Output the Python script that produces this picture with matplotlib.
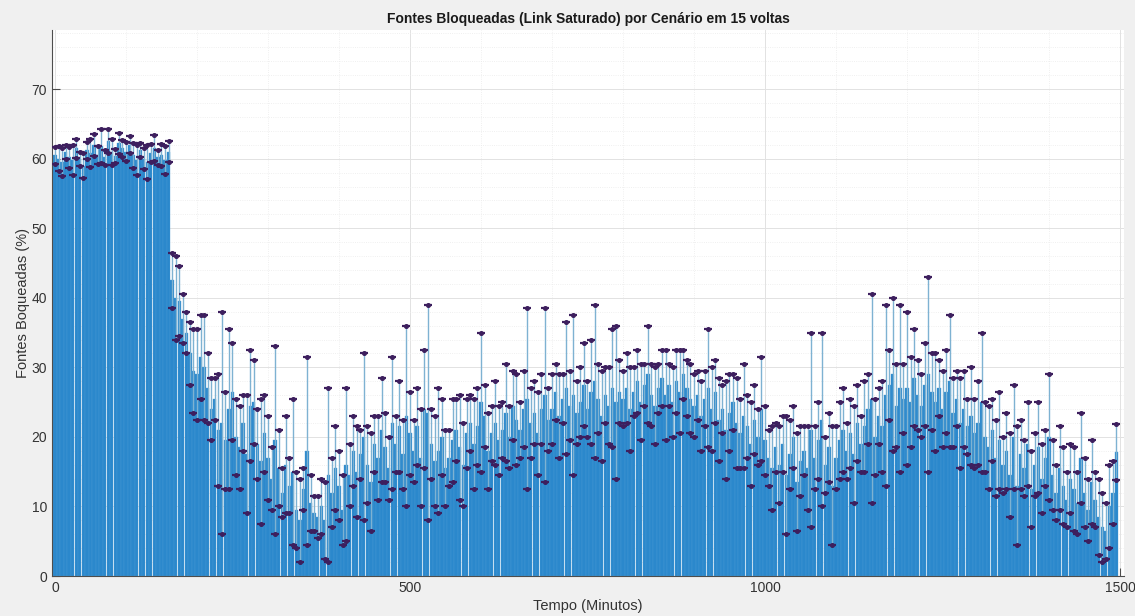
import matplotlib
matplotlib.use("Agg")
import matplotlib.pyplot as plt
from matplotlib.ticker import MultipleLocator
import numpy as np

# Sampling instants (minutes) — one bar every 5 minutes
tempo = list(range(0, 1500, 5))

# Mean share of blocked sources (%) at each instant
media = [
    60.5, 60.0, 59.5, 61.0, 60.2, 59.8, 61.5, 60.0, 59.0, 61.2, 60.8, 62.0, 60.5, 61.8, 60.2, 62.5, 61.0, 60.4, 62.2, 61.5,
    61.0, 62.0, 60.5, 59.8, 61.2, 60.0, 59.5, 60.8, 61.5, 60.2, 60.5, 59.8, 61.0, 42.5, 40.0, 39.5, 37.0, 35.0, 32.0, 29.5,
    29.0, 31.5, 30.0, 27.0, 24.0, 25.5, 21.0, 22.0, 19.5, 24.0, 26.5, 20.0, 18.5, 22.0, 17.5, 24.5, 25.0, 19.0, 16.5, 20.5,
    17.0, 14.0, 19.5, 15.5, 12.0, 16.0, 13.0, 15.0, 9.5, 8.0, 12.5, 18.0, 10.5, 9.0, 8.5, 10.0, 8.0, 14.5, 12.0, 15.5,
    13.0, 9.5, 16.0, 14.5, 18.0, 15.0, 17.5, 20.0, 16.0, 13.5, 19.0, 17.0, 21.0, 18.5, 15.5, 22.0, 19.0, 21.5, 17.5, 23.0,
    20.5, 18.0, 21.5, 17.0, 24.0, 23.5, 19.0, 16.5, 18.0, 20.0, 15.5, 17.0, 19.5, 21.0, 18.5, 16.0, 20.5, 22.0, 19.0, 21.5,
    25.0, 23.0, 18.0, 20.5, 22.0, 19.5, 21.0, 23.5, 20.0, 24.5, 22.5, 21.0, 24.0, 25.5, 22.0, 23.5, 20.5, 24.0, 26.0, 22.5,
    24.0, 26.5, 23.0, 25.5, 27.0, 24.5, 26.0, 23.5, 25.0, 27.5, 24.0, 26.5, 28.0, 25.5, 23.0, 26.0, 24.5, 27.0, 25.0, 26.5,
    25.5, 27.0, 24.0, 26.5, 28.0, 25.0, 27.5, 29.0, 26.0, 24.5, 27.0, 28.5, 26.0, 27.5, 25.0, 28.0, 26.5, 29.0, 27.0, 25.5,
    24.5, 26.0, 23.0, 25.5, 27.0, 24.0, 26.5, 22.5, 24.0, 21.0, 23.5, 25.0, 22.0, 20.5, 23.0, 21.5, 19.0, 22.5, 20.0, 24.0,
    19.5, 17.0, 15.5, 18.5, 16.0, 19.0, 14.5, 17.5, 20.0, 13.5, 16.5, 18.0, 15.5, 21.0, 17.0, 19.5, 22.5, 16.0, 18.5, 13.0,
    17.0, 19.5, 21.0, 18.0, 20.5, 17.5, 22.0, 19.0, 21.5, 24.0, 25.5, 20.0, 23.0, 21.5, 26.0, 27.5, 29.0, 24.5, 27.0, 25.5,
    27.0, 25.0, 28.5, 26.0, 24.5, 27.5, 29.0, 26.5, 25.0, 27.0, 24.0, 26.5, 28.0, 23.5, 25.5, 22.0, 24.0, 21.5, 23.0, 20.5,
    22.0, 25.0, 20.0, 18.5, 21.0, 17.0, 19.5, 16.0, 18.0, 14.5, 20.0, 13.0, 17.5, 15.5, 19.0, 12.5, 16.0, 18.5, 14.0, 17.0,
    20.0, 14.5, 12.0, 15.5, 13.0, 11.0, 14.0, 12.5, 10.5, 17.0, 12.0, 9.5, 13.5, 11.0, 8.5, 7.0, 6.5, 10.0, 12.0, 17.8,
]

# Standard deviation over the 15 laps at each instant
desvio = [
    1.2, 1.8, 2.0, 1.0, 1.5, 2.2, 1.4, 1.0, 1.8, 1.2, 2.0, 1.6, 1.3, 2.4, 1.1, 1.7, 1.9, 1.0, 1.5, 1.2,
    1.4, 1.2, 1.8, 2.2, 1.0, 1.5, 2.4, 1.3, 1.9, 1.1, 1.6, 2.0, 1.5, 4.0, 6.0, 5.0, 3.5, 3.0, 4.5, 6.0,
    6.5, 6.0, 7.5, 5.0, 4.5, 3.0, 8.0, 16.0, 7.0, 11.5, 7.0, 5.5, 6.0, 4.0, 8.5, 8.0, 6.0, 5.0, 9.0, 5.5,
    6.0, 4.5, 13.5, 5.5, 3.5, 7.0, 4.0, 10.5, 5.5, 6.0, 3.0, 13.5, 4.0, 2.5, 3.0, 4.0, 5.5, 12.5, 5.0, 6.0,
    5.0, 5.0, 11.0, 4.5, 5.0, 6.5, 3.5, 12.0, 5.5, 7.0, 4.0, 6.0, 7.5, 5.0, 4.5, 9.5, 4.0, 6.5, 5.0, 13.0,
    6.0, 4.5, 5.5, 7.0, 8.5, 15.5, 5.0, 6.5, 9.0, 5.5, 5.5, 4.0, 6.0, 4.5, 7.5, 6.0, 5.0, 4.0, 6.5, 5.5,
    10.0, 4.5, 5.5, 4.0, 6.0, 5.0, 4.0, 7.0, 4.5, 5.0, 6.5, 4.0, 5.5, 13.0, 5.0, 4.5, 6.0, 5.0, 12.5, 4.5,
    5.0, 4.0, 6.0, 3.5, 9.5, 5.0, 11.5, 4.5, 5.0, 6.0, 4.0, 7.5, 11.0, 5.0, 6.5, 4.0, 5.5, 8.5, 11.0, 4.5,
    4.0, 5.0, 6.0, 3.5, 4.5, 5.5, 3.0, 7.0, 4.5, 5.5, 3.5, 4.0, 6.5, 3.0, 5.0, 4.5, 6.0, 3.5, 4.0, 5.0,
    4.5, 3.5, 5.0, 4.0, 8.5, 6.0, 4.5, 6.0, 3.5, 7.0, 5.5, 4.0, 6.5, 5.0, 7.5, 4.5, 6.0, 5.0, 4.0, 7.5,
    5.0, 4.0, 6.0, 3.5, 5.5, 4.0, 8.5, 5.0, 4.5, 7.0, 5.0, 3.5, 6.0, 14.0, 4.5, 5.5, 12.5, 4.0, 5.0, 8.5,
    4.5, 5.5, 6.0, 4.0, 5.0, 7.0, 5.5, 4.0, 6.5, 5.0, 15.0, 5.5, 4.0, 6.5, 13.0, 5.0, 11.0, 6.0, 12.0, 5.0,
    11.0, 6.5, 7.0, 5.0, 4.5, 6.0, 14.0, 5.5, 7.0, 4.0, 5.5, 6.0, 9.5, 5.0, 4.0, 6.5, 5.5, 4.0, 7.0, 5.0,
    6.0, 10.0, 5.0, 6.0, 4.5, 5.5, 7.0, 4.0, 5.5, 6.0, 7.5, 8.5, 5.0, 4.0, 6.0, 5.5, 4.5, 6.5, 5.0, 4.0,
    9.0, 5.0, 4.0, 6.0, 5.5, 4.0, 5.0, 6.0, 4.5, 6.5, 5.0, 4.5, 6.0, 4.0, 5.5, 5.0, 4.0, 6.0, 4.5, 4.0,
]

titulo = "Fontes Bloqueadas (Link Saturado) por Cenário em 15 voltas"
rotulo_x = "Tempo (Minutos)"
rotulo_y = "Fontes Boqueadas (%)"

plt.rcParams["font.family"] = ["Liberation Sans", "DejaVu Sans"]

fig = plt.figure(figsize=(11.35, 6.16), dpi=100, facecolor="#f0f0f0")
ax = fig.add_axes([0.0458, 0.0649, 0.9445, 0.8864])
ax.set_facecolor("white")

x = np.array(tempo)
m = np.array(media)
s = np.array(desvio)

ax.bar(x, m, width=4.7, color="#2b88cc", edgecolor="#4b9bd4", linewidth=0.25, zorder=2)

cap_color = "#3d1f5e"
eb = ax.errorbar(x, m, yerr=s, fmt="none", ecolor="#7eb2d2", elinewidth=1.0,
                 capsize=3.0, capthick=1.6, zorder=3)
for cl in eb[1]:
    cl.set_color(cap_color)
    cl.set_markeredgecolor(cap_color)
ax.plot(x, m + s, ls="none", marker="o", ms=2.6, color=cap_color, zorder=4)
ax.plot(x, m - s, ls="none", marker="o", ms=2.6, color=cap_color, zorder=4)

ax.set_xlim(-4.2, 1505.6)
ax.set_ylim(0, 78.5)
ax.xaxis.set_major_locator(MultipleLocator(500))
ax.yaxis.set_major_locator(MultipleLocator(10))
ax.xaxis.set_minor_locator(MultipleLocator(100))
ax.yaxis.set_minor_locator(MultipleLocator(2))

ax.set_axisbelow(True)
ax.grid(which="major", color="#e2e2e2", lw=0.7, zorder=0)
ax.grid(which="minor", color="#ebebeb", lw=0.6, ls=":", zorder=0)

for side in ("top", "right"):
    ax.spines[side].set_visible(False)
for side in ("left", "bottom"):
    ax.spines[side].set_color("#4d4d4d")
    ax.spines[side].set_linewidth(0.8)

ax.tick_params(which="major", direction="in", length=6, width=0.8,
               colors="#4d4d4d", labelsize=10, labelcolor="#333333")
ax.tick_params(which="minor", length=0)

ax.set_title(titulo, fontsize=10, fontweight="bold", color="#1a1a1a", pad=5)
ax.set_xlabel(rotulo_x, fontsize=10.5, color="#333333", labelpad=3)
ax.set_ylabel(rotulo_y, fontsize=10.5, color="#333333", labelpad=1)

fig.savefig("out.png", dpi=100, facecolor=fig.get_facecolor())
